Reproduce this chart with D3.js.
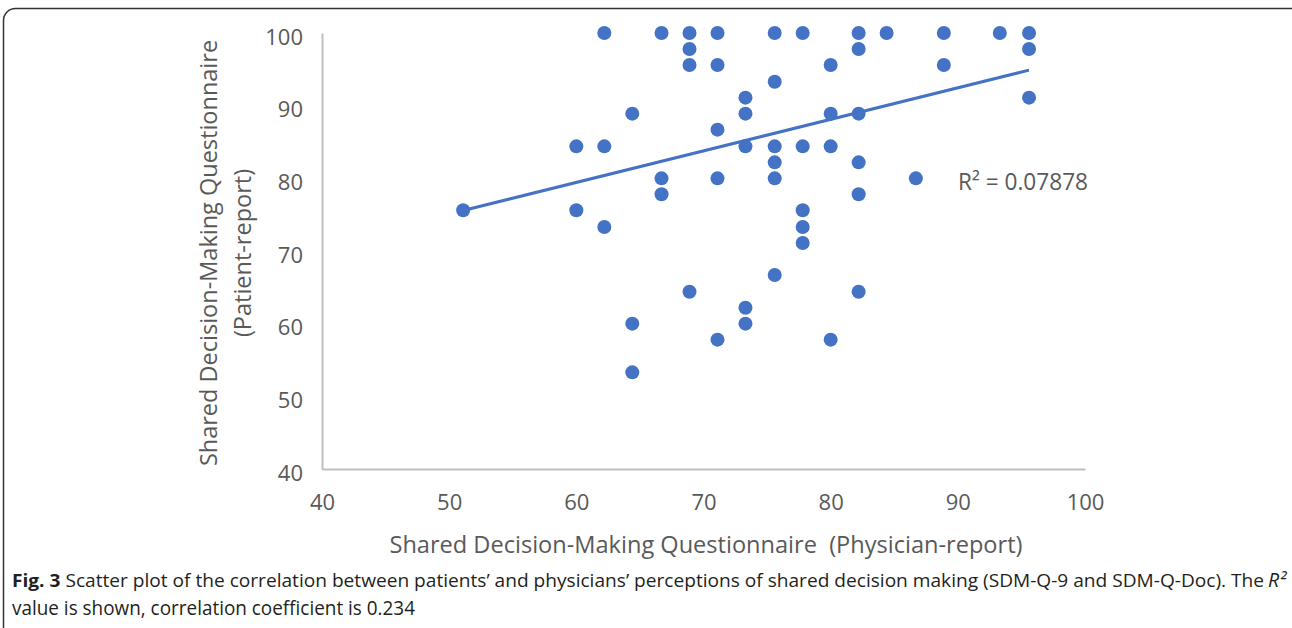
<!DOCTYPE html>
<html>
<head>
<meta charset="utf-8">
<script src="https://cdn.jsdelivr.net/npm/d3@7"></script>
<style>
  html, body { margin: 0; padding: 0; background: #fff; }
  svg { display: block; font-family: "Open Sans", sans-serif; }
  .tick text { fill: #595959; font-size: 22px; }
  .axis path.domain { stroke: #bfbfbf; stroke-width: 2; }
</style>
</head>
<body>
<script>
// SDM-Q-Doc (physician) on x, SDM-Q-9 (patient) on y
var physicianScores = [51.1, 60, 60, 62.2, 62.2, 62.2, 64.4, 64.4, 64.4, 66.7, 66.7, 66.7,
    68.9, 68.9, 68.9, 68.9, 71.1, 71.1, 71.1, 71.1, 71.1, 73.3, 73.3, 73.3, 73.3, 73.3,
    75.6, 75.6, 75.6, 75.6, 75.6, 75.6, 77.8, 77.8, 77.8, 77.8, 77.8, 80, 80, 80, 80,
    82.2, 82.2, 82.2, 82.2, 82.2, 82.2, 84.4, 86.7, 88.9, 88.9, 93.3, 95.6, 95.6, 95.6];
var patientScores = [75.6, 84.4, 75.6, 100, 84.4, 73.3, 88.9, 60, 53.3, 100, 80, 77.8,
    100, 97.8, 95.6, 64.4, 100, 95.6, 86.7, 80, 57.8, 91.1, 88.9, 84.4, 62.2, 60,
    100, 93.3, 84.4, 82.2, 80, 66.7, 100, 84.4, 75.6, 73.3, 71.1, 95.6, 88.9, 84.4, 57.8,
    100, 97.8, 88.9, 82.2, 77.8, 64.4, 100, 80, 100, 95.6, 100, 100, 97.8, 91.1];

var xTicks = [40, 50, 60, 70, 80, 90, 100];
var yTicks = [40, 50, 60, 70, 80, 90, 100];

// linear trendline as drawn in the figure
var trendSlope = 0.434;
var trendIntercept = 53.4;
var r2Text = "R² = 0.07878";

var xTitle = "Shared Decision-Making Questionnaire  (Physician-report)";
var yTitleLines = ["Shared Decision-Making Questionnaire", "(Patient-report)"];

var width = 1292, height = 628;
var dotColor = "#4472c4";

var x = d3.scaleLinear().domain([40, 100]).range([322, 1085]);
var y = d3.scaleLinear().domain([40, 100]).range([469, 33]);

var svg = d3.select("body").append("svg")
    .attr("width", width)
    .attr("height", height);

svg.append("rect")
    .attr("width", width).attr("height", height)
    .attr("fill", "#fff");

// figure frame (rounded box, right/bottom run off the crop)
svg.append("rect")
    .attr("x", 3.5).attr("y", 8.5)
    .attr("width", 1300).attr("height", 650)
    .attr("rx", 12)
    .attr("fill", "none")
    .attr("stroke", "#333")
    .attr("stroke-width", 1.5);

svg.append("g")
    .attr("class", "x axis")
    .attr("transform", "translate(0," + y(40) + ")")
    .call(d3.axisBottom(x).tickValues(xTicks).tickSize(0).tickSizeOuter(0).tickPadding(25));

svg.append("g")
    .attr("class", "y axis")
    .attr("transform", "translate(" + x(40) + ",0)")
    .call(d3.axisLeft(y).tickValues(yTicks).tickSize(0).tickSizeOuter(0).tickPadding(19))
    .selectAll("text")
    .attr("dy", "0.5em");

svg.selectAll(".tick text").attr("font-family", "Open Sans, sans-serif");

// trendline over the x range of the data
var xExt = d3.extent(physicianScores);
svg.append("line")
    .attr("x1", x(xExt[0]))
    .attr("y1", y(trendIntercept + trendSlope * xExt[0]))
    .attr("x2", x(xExt[1]))
    .attr("y2", y(trendIntercept + trendSlope * xExt[1]))
    .attr("stroke", dotColor)
    .attr("stroke-width", 3);

var points = physicianScores.map(function(d, i) { return {px: d, py: patientScores[i]}; });

svg.selectAll("circle.dot")
    .data(points)
    .enter().append("circle")
    .attr("class", "dot")
    .attr("r", 7)
    .attr("cx", function(d) { return x(d.px); })
    .attr("cy", function(d) { return y(d.py); })
    .style("fill", dotColor);

svg.append("text")
    .attr("x", 958)
    .attr("y", 190)
    .attr("fill", "#595959")
    .style("font-size", "23px")
    .attr("textLength", 130)
    .attr("lengthAdjust", "spacingAndGlyphs")
    .text(r2Text);

svg.append("text")
    .attr("x", 706)
    .attr("y", 553)
    .attr("text-anchor", "middle")
    .attr("fill", "#595959")
    .style("font-size", "23.5px")
    .attr("xml:space", "preserve")
    .style("white-space", "pre")
    .attr("textLength", 633)
    .attr("lengthAdjust", "spacingAndGlyphs")
    .text(xTitle);

var yTitle = svg.append("text")
    .attr("transform", "translate(217,253) rotate(-90)")
    .attr("text-anchor", "middle")
    .attr("fill", "#595959")
    .style("font-size", "23.5px");
yTitle.selectAll("tspan")
    .data(yTitleLines)
    .enter().append("tspan")
    .attr("x", 0)
    .attr("dy", function(d, i) { return i === 0 ? 0 : "1.45em"; })
    .text(function(d) { return d; });

// caption
var cap1 = svg.append("text")
    .attr("x", 12).attr("y", 587)
    .attr("fill", "#231f20")
    .style("font-size", "18.5px")
    .attr("textLength", 1252)
    .attr("lengthAdjust", "spacingAndGlyphs");
cap1.append("tspan").style("font-weight", "bold").text("Fig. 3");
cap1.append("tspan").text(" Scatter plot of the correlation between patients\u2019 and physicians\u2019 perceptions of shared decision making (SDM-Q-9 and SDM-Q-Doc). The");

svg.append("text")
    .attr("x", 1286).attr("y", 587)
    .attr("text-anchor", "end")
    .attr("fill", "#231f20")
    .style("font-size", "19.5px")
    .style("font-style", "italic")
    .text("R\u00b2");

svg.append("text")
    .attr("x", 12).attr("y", 615)
    .attr("fill", "#231f20")
    .style("font-size", "20px")
    .attr("textLength", 403)
    .attr("lengthAdjust", "spacingAndGlyphs")
    .text("value is shown, correlation coefficient is 0.234");
</script>
</body>
</html>
